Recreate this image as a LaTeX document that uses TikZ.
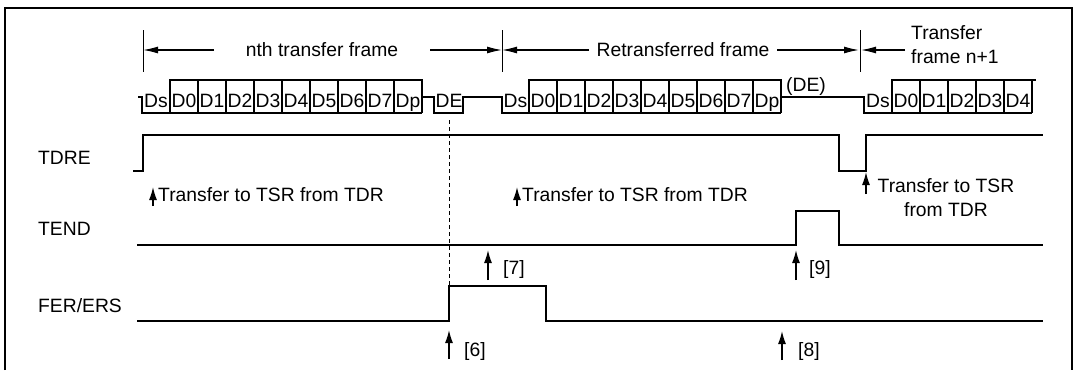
\documentclass[tikz,border=0pt]{standalone}
\usepackage{fontspec}
\setmainfont{Liberation Sans}
\usetikzlibrary{arrows.meta}
\begin{document}
\begin{tikzpicture}[x=1pt,y=-1pt,
  sig/.style={line width=2.2pt, line join=miter},
  bits/.style={line width=1.9pt, line join=miter},
  frm/.style={line width=2.5pt},
  divl/.style={line width=1pt},
  lbl/.style={inner sep=0pt, font=\fontsize{19.3}{24}\selectfont},
  upar/.style={line width=1.4pt, -{Latex[length=13pt,width=8pt]}},
  dimar/.style={line width=1.3pt, -{Latex[length=15pt,width=7pt]}},
  ]
\useasboundingbox (0,0) rectangle (1076,370);
% outer frame
\draw[frm] (5,370) -- (5,8) -- (1072,8) -- (1072,370);

% frame dividers
\draw[divl] (143,30) -- (143,72);
\draw[divl] (502,30) -- (502,72);
\draw[divl] (860,30) -- (860,72);

% dimension arrows and labels
\node[lbl, anchor=base] (nth) at (322,56.5) {nth transfer frame};
\coordinate (d1) at (143,50); \coordinate (d1r) at (214,50);
\coordinate (d2l) at (430,50); \coordinate (d2) at (502,50);
\draw[dimar] (d1r) -- (d1);
\draw[dimar] (d2l) -- (d2);
\node[lbl, anchor=base] (ret) at (683,56.5) {Retransferred frame};
\coordinate (d2r) at (589,50); \coordinate (d3l) at (777,50); \coordinate (d3) at (859,50);
\draw[dimar] (d2r) -- (d2);
\draw[dimar] (d3l) -- (d3);
\coordinate (d3b) at (861,50); \coordinate (d3r) at (905,50);
\draw[dimar] (d3r) -- (d3b);
\node[lbl, anchor=west, align=left] (nxt) at (911,45) {Transfer\\frame n+1};

% bit row: nth frame
\draw[bits] (138,97) -- (142,97) -- (142,113) -- (422,113);
\draw[bits] (170,113) -- (170,80) -- (422,80) -- (422,113);
\foreach \x in {198,226,254,282,310,338,366,394} \draw[bits] (\x,80) -- (\x,113);
\draw[bits] (422,97) -- (434,97) -- (434,113) -- (463,113) -- (463,97) -- (502,97) -- (502,113) -- (781,113);
% retransferred frame
\draw[bits] (529,113) -- (529,80) -- (781,80) -- (781,113);
\foreach \x in {557,585,613,641,669,697,725,753} \draw[bits] (\x,80) -- (\x,113);
\draw[bits] (781,97) -- (864,97) -- (864,113) -- (1032,113);
% frame n+1
\draw[bits] (892,113) -- (892,80) -- (1036,80);
\foreach \x in {920,948,976,1004,1032} \draw[bits] (\x,80) -- (\x,113);

% bit labels
\node[lbl, anchor=base] (a0) at (156,107) {Ds};
\foreach \t [count=\i] in {D0,D1,D2,D3,D4,D5,D6,D7,Dp}
  \node[lbl, anchor=base] (a\i) at (156+28*\i,107) {\t};
\node[lbl, anchor=base] (de1) at (449,107) {DE};
\node[lbl, anchor=base] (b0) at (515.5,107) {Ds};
\foreach \t [count=\i] in {D0,D1,D2,D3,D4,D5,D6,D7,Dp}
  \node[lbl, anchor=base] (b\i) at (515+28*\i,107) {\t};
\node[lbl, anchor=base] (de2) at (806,91) {(DE)};
\node[lbl, anchor=base] (c0) at (878,107) {Ds};
\foreach \t [count=\i] in {D0,D1,D2,D3,D4}
  \node[lbl, anchor=base] (c\i) at (878+28*\i,107) {\t};

% signal names
\node[lbl, anchor=base west] (tdre) at (38,164.5) {TDRE};
\node[lbl, anchor=base west] (tend) at (38,235) {TEND};
\node[lbl, anchor=base west] (fer) at (38,312) {FER/ERS};

% signals
\draw[sig] (133,171) -- (143,171) -- (143,135) -- (839,135) -- (839,171) -- (866,171) -- (866,135) -- (1043,135);
\draw[sig] (137,245) -- (796,245) -- (796,211) -- (839,211) -- (839,245) -- (1043,245);
\draw[sig] (137,321) -- (449,321) -- (449,286) -- (546,286) -- (546,321) -- (1043,321);

% dashed marker
\coordinate (dsA) at (449,120); \coordinate (dsB) at (449,286);
\draw[line width=1pt, dash pattern=on 4pt off 3pt] (dsA) -- (dsB);

% transfer arrows
\coordinate (t1a) at (153,206); \coordinate (t1b) at (153,187);
\draw[upar] (t1a) -- (t1b);
\node[lbl, anchor=base west] (t1) at (158,201.5) {Transfer to TSR from TDR};
\coordinate (t2a) at (517,206); \coordinate (t2b) at (517,187);
\draw[upar] (t2a) -- (t2b);
\node[lbl, anchor=base west] (t2) at (522,201.5) {Transfer to TSR from TDR};
\coordinate (t3a) at (866,194); \coordinate (t3b) at (866,172);
\draw[upar] (t3a) -- (t3b);
\node[lbl, align=center] (t3) at (946,198) {Transfer to TSR\\from TDR};

% numbered event arrows
\coordinate (e7a) at (488,280); \coordinate (e7b) at (488,250);
\draw[upar] (e7a) -- (e7b);
\node[lbl, anchor=base west] (l7) at (503,274) {[7]};
\coordinate (e9a) at (796,280); \coordinate (e9b) at (796,250);
\draw[upar] (e9a) -- (e9b);
\node[lbl, anchor=base west] (l9) at (809,274) {[9]};
\coordinate (e6a) at (449,359); \coordinate (e6b) at (449,330);
\draw[upar] (e6a) -- (e6b);
\node[lbl, anchor=base west] (l6) at (464,356) {[6]};
\coordinate (e8a) at (782,360); \coordinate (e8b) at (782,331);
\draw[upar] (e8a) -- (e8b);
\node[lbl, anchor=base west] (l8) at (798,356) {[8]};
\end{tikzpicture}
\end{document}
